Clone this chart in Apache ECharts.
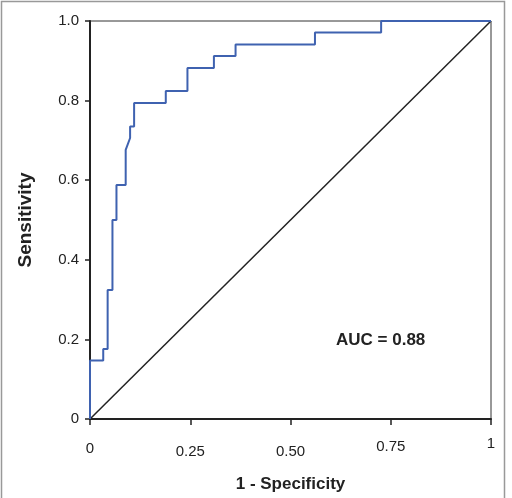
<!DOCTYPE html>
<html>
<head>
<meta charset="utf-8">
<script src="https://cdn.jsdelivr.net/npm/echarts@6/dist/echarts.min.js"></script>
<style>
  html, body { margin: 0; padding: 0; background: #fff; }
  #main { width: 512px; height: 498px; }
</style>
</head>
<body>
<div id="main"></div>
<script>
// ROC curve vertices (1 - specificity, sensitivity)
var fpr = [0, 0, 0.033, 0.033, 0.044, 0.044, 0.056, 0.056, 0.066, 0.066, 0.089, 0.089, 0.1, 0.1, 0.11, 0.11,
           0.189, 0.189, 0.243, 0.243, 0.309, 0.309, 0.363, 0.363, 0.561, 0.561, 0.726, 0.726, 1];
var tpr = [0, 0.147, 0.147, 0.176, 0.176, 0.324, 0.324, 0.5, 0.5, 0.588, 0.588, 0.676, 0.706, 0.735, 0.735, 0.794,
           0.794, 0.824, 0.824, 0.882, 0.882, 0.912, 0.912, 0.941, 0.941, 0.971, 0.971, 1, 1];
var refLine = [[0, 0], [1, 1]];
var xTicks = ['0', '0.25', '0.50', '0.75', '1'];
var yTicks = ['0', '0.2', '0.4', '0.6', '0.8', '1.0'];
var aucText = 'AUC = 0.88';

var dom = document.getElementById('main');
var myChart = echarts.init(dom);

var rocData = [];
for (var i = 0; i < fpr.length; i++) {
    rocData.push([fpr[i], tpr[i]]);
}

var font = 'Liberation Sans, Arial, sans-serif';

var option = {
    backgroundColor: '#fff',
    animation: false,
    grid: {
        left: 90,
        right: 21,
        top: 21,
        bottom: 74,
        show: true,
        borderColor: '#333',
        borderWidth: 1
    },
    graphic: [
        {
            type: 'rect',
            shape: { x: 1.5, y: 1.5, width: 503, height: 510 },
            style: { fill: 'none', stroke: '#999', lineWidth: 1.5 },
            silent: true
        },
        {
            type: 'text',
            left: 336,
            top: 332,
            style: { text: aucText, font: 'bold 17px ' + font, fill: '#222' }
        }
    ],
    xAxis: {
        type: 'value',
        min: 0,
        max: 1,
        interval: 0.25,
        name: '1 - Specificity',
        nameLocation: 'middle',
        nameGap: 57,
        nameTextStyle: { fontFamily: font, fontWeight: 'bold', fontSize: 17, color: '#222' },
        splitLine: { show: false },
        axisLine: { lineStyle: { color: '#222', width: 2 } },
        axisTick: { show: true, length: 6, lineStyle: { color: '#222', width: 1.5 } },
        axisLabel: {
            margin: 10,
            fontFamily: font,
            fontSize: 15,
            color: '#222',
            formatter: function (v) {
                var idx = Math.round(v / 0.25);
                return '{t' + idx + '|' + xTicks[idx] + '}';
            },
            rich: {
                t0: { fontSize: 15, color: '#222', padding: [12, 0, 0, 0] },
                t1: { fontSize: 15, color: '#222', padding: [15, 0, 0, 0] },
                t2: { fontSize: 15, color: '#222', padding: [15, 0, 0, 0] },
                t3: { fontSize: 15, color: '#222', padding: [10, 0, 0, 0] },
                t4: { fontSize: 15, color: '#222', padding: [7, 0, 0, 0] }
            }
        }
    },
    yAxis: {
        type: 'value',
        min: 0,
        max: 1,
        interval: 0.2,
        name: 'Sensitivity',
        nameLocation: 'middle',
        nameGap: 55,
        nameTextStyle: { fontFamily: font, fontWeight: 'bold', fontSize: 19, color: '#222' },
        splitLine: { show: false },
        axisLine: { show: true, lineStyle: { color: '#222', width: 2 } },
        axisTick: { show: true, length: 5, lineStyle: { color: '#222', width: 1.5 } },
        axisLabel: {
            margin: 11,
            fontFamily: font,
            fontSize: 15,
            color: '#222',
            formatter: function (v) {
                return yTicks[Math.round(v / 0.2)];
            }
        }
    },
    series: [
        {
            name: 'reference',
            type: 'line',
            data: refLine,
            symbol: 'none',
            lineStyle: { color: '#222', width: 1.5 },
            z: 2
        },
        {
            name: 'ROC',
            type: 'line',
            data: rocData,
            symbol: 'none',
            lineStyle: { color: '#3F62B0', width: 2 },
            z: 3
        }
    ]
};

myChart.setOption(option);
</script>
</body>
</html>
